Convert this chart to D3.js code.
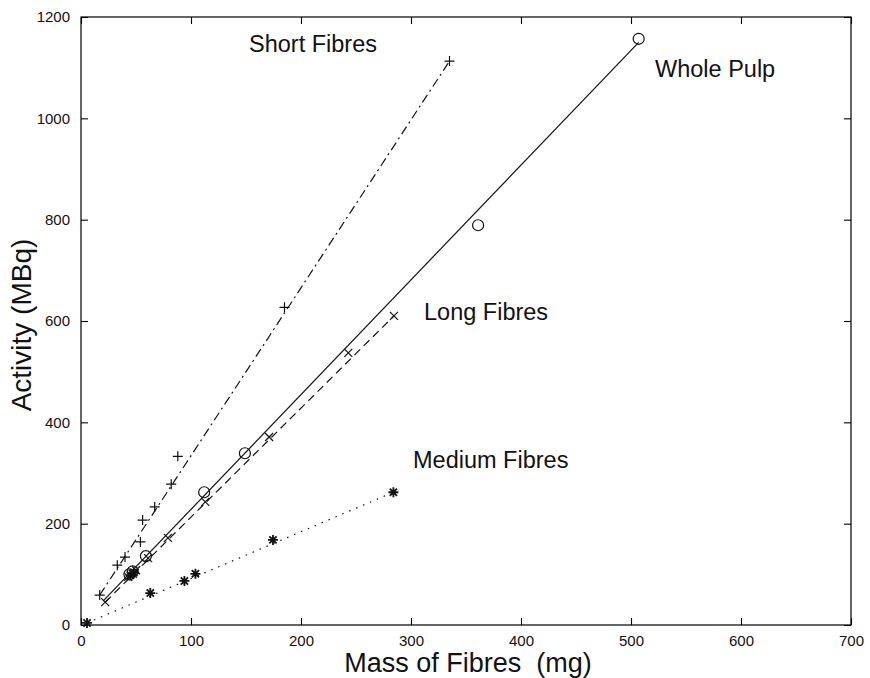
<!DOCTYPE html>
<html>
<head>
<meta charset="utf-8">
<script src="https://cdn.jsdelivr.net/npm/d3@7"></script>
<style>
  html, body { margin: 0; padding: 0; background: #fff; }
  svg { display: block; font-family: "Liberation Sans", Arial, Helvetica, sans-serif; }
</style>
</head>
<body>
<svg id="chart" width="870" height="678"></svg>
<script>
// ---- data ----
const xTicks = [0, 100, 200, 300, 400, 500, 600, 700];
const yTicks = [0, 200, 400, 600, 800, 1000, 1200];

// Short Fibres (+ markers, dash-dot fit)
const shortX = [17, 33, 40, 54, 56, 67, 82, 88, 185, 335];
const shortY = [59, 118, 134, 164, 207, 233, 278, 333, 627, 1113];
const shortFitX = [17, 335];
const shortFitY = [59, 1113];

// Whole Pulp (o markers, solid fit)
const wholeX = [44, 47, 59, 112, 149, 361, 507];
const wholeY = [100, 106, 136, 262, 339, 789, 1157];
const wholeFitX = [20, 507];
const wholeFitY = [47, 1150];

// Long Fibres (x markers, dashed fit)
const longX = [22, 43, 47, 50, 61, 79, 113, 171, 243, 284.5];
const longY = [45, 95, 101, 108, 132, 172, 243, 371, 537, 610];
const longFitX = [22, 284.5];
const longFitY = [45, 610];

// Medium Fibres (* markers, dotted fit)
const mediumX = [5.5, 45, 48, 63, 94, 104, 174.5, 284];
const mediumY = [4, 98, 103, 63, 87, 101, 168, 262];
const mediumFitX = [5.5, 284];
const mediumFitY = [4, 262];

const labels = ["Short Fibres", "Whole Pulp", "Long Fibres", "Medium Fibres"];
const labelX = [249, 655, 424, 413];   // data-independent annotation anchors (px)
const labelY = [52, 77, 320, 468];

// ---- layout ----
const svg = d3.select("#chart");
const L = 81, R = 851, T = 17, B = 625;
const x = d3.scaleLinear().domain([0, 700]).range([L, R]);
const y = d3.scaleLinear().domain([0, 1200]).range([B, T]);

const tickFont = "15px";

// frame
svg.append("rect").attr("x", L).attr("y", T).attr("width", R - L).attr("height", B - T)
  .attr("fill", "none").attr("stroke", "#000").attr("stroke-width", 1.2);

// axes with inward ticks
const axB = d3.axisBottom(x).tickValues(xTicks).tickSize(-7).tickPadding(10).tickFormat(d3.format("d"));
const axT = d3.axisTop(x).tickValues(xTicks).tickSize(-7).tickFormat("");
const axLft = d3.axisLeft(y).tickValues(yTicks).tickSize(-7).tickPadding(11).tickFormat(d3.format("d"));
const axRt = d3.axisRight(y).tickValues(yTicks).tickSize(-7).tickFormat("");

function style(g) {
  g.select(".domain").remove();
  g.selectAll(".tick line").attr("stroke", "#000").attr("stroke-width", 1.1);
  g.selectAll(".tick text").attr("fill", "#111").style("font-size", tickFont)
    .style("font-family", '"Liberation Sans", Arial, sans-serif');
}
svg.append("g").attr("transform", `translate(0,${B})`).call(axB).call(style);
svg.append("g").attr("transform", `translate(0,${T})`).call(axT).call(style);
svg.append("g").attr("transform", `translate(${L},0)`).call(axLft).call(style);
svg.append("g").attr("transform", `translate(${R},0)`).call(axRt).call(style);

// axis titles
svg.append("text").attr("x", (L + R) / 2 + 2).attr("y", 672).attr("text-anchor", "middle")
  .style("font-size", "27px").attr("fill", "#111").text("Mass of Fibres\u00a0\u00a0(mg)");
svg.append("text").attr("transform", `translate(31,${(T + B) / 2 + 4}) rotate(-90)`)
  .attr("text-anchor", "middle").style("font-size", "28px").attr("fill", "#111")
  .text("Activity (MBq)");

// fit lines
const line = d3.line().x(d => x(d[0])).y(d => y(d[1]));
function fit(xs, ys, dash) {
  svg.append("path").datum(xs.map((v, i) => [v, ys[i]])).attr("d", line)
    .attr("fill", "none").attr("stroke", "#111").attr("stroke-width", 1.2)
    .attr("stroke-dasharray", dash);
}
fit(shortFitX, shortFitY, "9,4,2,4");
fit(wholeFitX, wholeFitY, null);
fit(longFitX, longFitY, "8,5");
fit(mediumFitX, mediumFitY, "1.5,6");

// markers
const s = 5;
const plusPath = `M${-s},0H${s}M0,${-s}V${s}`;
const d2 = 4;
const xPath = `M${-d2},${-d2}L${d2},${d2}M${-d2},${d2}L${d2},${-d2}`;
const starPath = `M${-s},0H${s}M0,${-s}V${s}M${-3.6},${-3.6}L3.6,3.6M-3.6,3.6L3.6,-3.6`;

function markers(xs, ys, kind) {
  const g = svg.append("g");
  xs.forEach((v, i) => {
    const t = `translate(${x(v)},${y(ys[i])})`;
    if (kind === "o") {
      g.append("circle").attr("cx", x(v)).attr("cy", y(ys[i])).attr("r", 5.5)
        .attr("fill", "none").attr("stroke", "#111").attr("stroke-width", 1.2);
    } else {
      g.append("path").attr("transform", t)
        .attr("d", kind === "+" ? plusPath : kind === "x" ? xPath : starPath)
        .attr("fill", "none").attr("stroke", "#111").attr("stroke-width", kind === "*" ? 1.8 : 1.2);
    }
  });
}
markers(shortX, shortY, "+");
markers(wholeX, wholeY, "o");
markers(longX, longY, "x");
markers(mediumX, mediumY, "*");

// series labels
labels.forEach((t, i) => {
  svg.append("text").attr("x", labelX[i]).attr("y", labelY[i])
    .style("font-size", "23.5px").attr("fill", "#111").text(t);
});
</script>
</body>
</html>
